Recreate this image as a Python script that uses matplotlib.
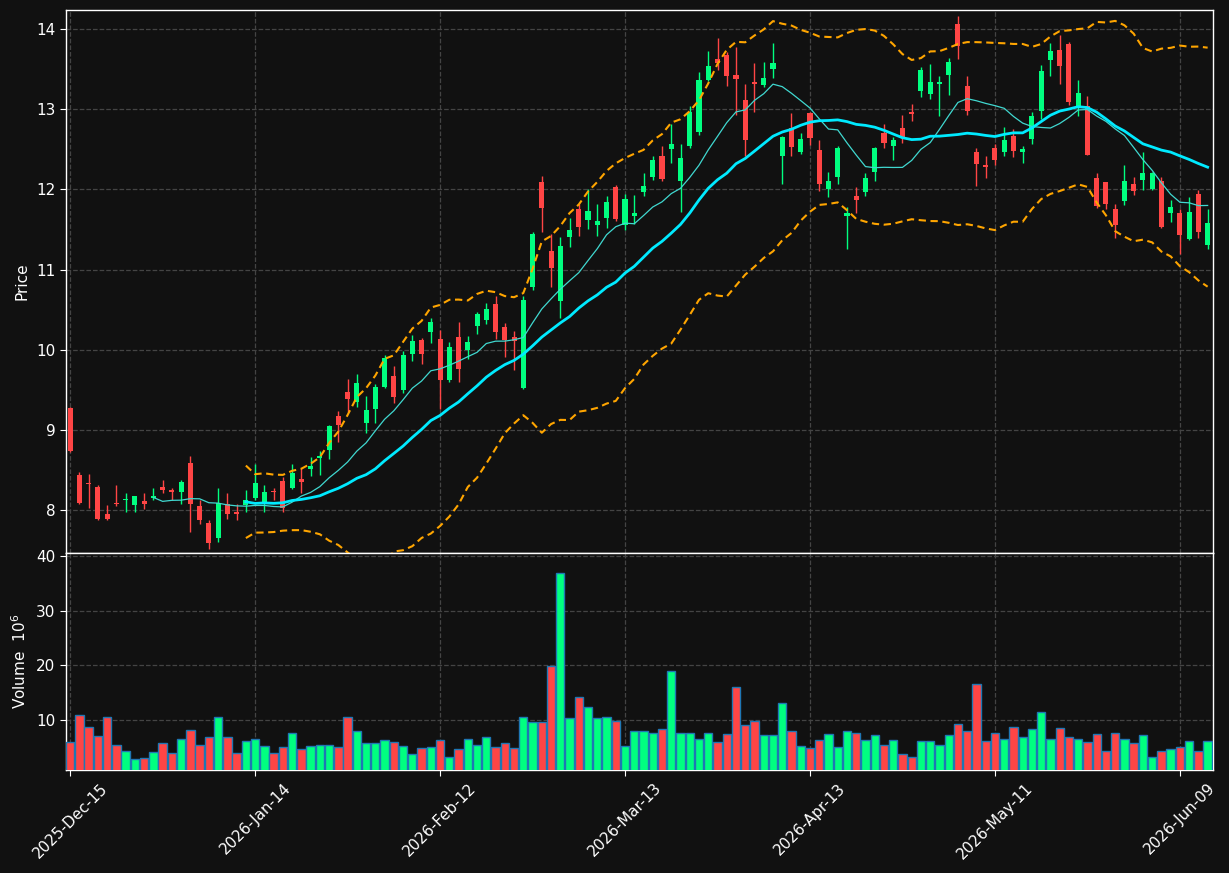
import numpy as np
import matplotlib
matplotlib.use("Agg")
import matplotlib.pyplot as plt

opens = [9.27, 8.44, 8.34, 8.29, 7.95, 8.09, 8.12, 8.06, 8.11, 8.15,
         8.29, 8.25, 8.23, 8.59, 8.05, 7.84, 7.65, 8.08, 7.98, 8.06,
         8.15, 8.10, 8.23, 8.36, 8.27, 8.39, 8.51, 8.65, 8.75, 9.17,
         9.47, 9.35, 9.09, 9.26, 9.53, 9.67, 9.50, 9.95, 10.12, 10.22,
         10.13, 9.62, 10.16, 10.00, 10.29, 10.37, 10.57, 10.28, 10.16, 9.52,
         10.78, 12.09, 11.23, 10.61, 11.41, 11.75, 11.62, 11.55, 11.64, 12.03,
         11.56, 11.67, 11.97, 12.16, 12.41, 12.50, 12.11, 12.54, 12.71, 13.37,
         13.62, 13.68, 13.42, 13.11, 13.34, 13.30, 13.50, 12.42, 12.76, 12.46,
         12.95, 12.49, 12.01, 12.16, 11.67, 11.92, 11.97, 12.22, 12.70, 12.54,
         12.76, 12.97, 13.23, 13.19, 13.32, 13.42, 14.06, 13.29, 12.46, 12.30,
         12.51, 12.47, 12.66, 12.46, 12.63, 12.98, 13.61, 13.74, 13.81, 13.04,
         13.04, 12.14, 12.09, 11.75, 11.85, 12.07, 12.12, 12.01, 12.10, 11.70,
         11.71, 11.38, 11.94, 11.31]
highs = [9.28, 8.47, 8.45, 8.31, 8.06, 8.31, 8.21, 8.17, 8.21, 8.27,
         8.38, 8.27, 8.37, 8.68, 8.12, 7.88, 8.28, 8.21, 8.08, 8.25,
         8.57, 8.31, 8.27, 8.41, 8.58, 8.53, 8.66, 8.74, 9.06, 9.23,
         9.63, 9.70, 9.42, 9.57, 9.93, 9.80, 9.98, 10.18, 10.15, 10.39,
         10.25, 10.09, 10.34, 10.17, 10.47, 10.58, 10.67, 10.33, 10.23, 10.67,
         11.47, 12.17, 11.44, 11.40, 11.64, 11.82, 12.01, 11.82, 11.92, 12.05,
         11.94, 11.93, 12.20, 12.41, 12.54, 12.82, 12.57, 13.04, 13.46, 13.73,
         13.89, 13.71, 13.78, 13.32, 13.57, 13.59, 13.82, 12.67, 12.95, 12.70,
         12.97, 12.61, 12.22, 12.54, 11.78, 12.03, 12.20, 12.53, 12.82, 12.65,
         12.93, 13.07, 13.52, 13.56, 13.41, 13.64, 14.16, 13.41, 12.52, 12.42,
         12.57, 12.78, 12.75, 12.54, 12.97, 13.55, 13.83, 13.93, 13.84, 13.36,
         13.17, 12.20, 12.09, 11.82, 12.30, 12.15, 12.46, 12.22, 12.15, 11.87,
         11.76, 11.90, 11.99, 11.76]
lows = [8.73, 8.08, 8.03, 7.88, 7.87, 8.05, 7.98, 7.98, 8.01, 8.13,
        8.21, 8.13, 8.08, 7.72, 7.83, 7.52, 7.60, 7.89, 7.88, 7.98,
        8.12, 7.98, 8.12, 7.98, 8.26, 8.21, 8.42, 8.44, 8.64, 8.85,
        9.22, 9.28, 8.96, 9.09, 9.52, 9.33, 9.46, 9.86, 9.82, 10.08,
        9.26, 9.60, 9.60, 9.88, 10.19, 10.32, 10.13, 9.91, 9.75, 9.51,
        10.74, 11.47, 10.78, 10.39, 11.28, 11.42, 11.51, 11.42, 11.52, 11.61,
        11.49, 11.57, 11.92, 12.12, 12.11, 12.33, 11.72, 12.52, 12.68, 13.35,
        13.49, 13.29, 12.93, 12.41, 12.96, 13.28, 13.39, 12.07, 12.42, 12.44,
        12.55, 11.98, 11.91, 12.07, 11.26, 11.70, 11.92, 12.11, 12.52, 12.36,
        12.58, 12.85, 13.15, 13.13, 12.92, 13.18, 13.62, 12.93, 12.04, 12.14,
        12.30, 12.42, 12.40, 12.33, 12.56, 12.88, 13.41, 13.31, 13.05, 12.92,
        12.43, 11.77, 11.76, 11.39, 11.80, 11.93, 11.99, 11.99, 11.52, 11.59,
        11.19, 11.37, 11.39, 11.25]
closes = [8.74, 8.09, 8.33, 7.89, 7.89, 8.08, 8.14, 8.17, 8.07, 8.17,
          8.25, 8.22, 8.35, 8.08, 7.87, 7.59, 8.09, 7.95, 7.95, 8.13,
          8.34, 8.22, 8.22, 8.03, 8.46, 8.35, 8.55, 8.67, 9.05, 9.06,
          9.38, 9.58, 9.25, 9.53, 9.90, 9.41, 9.93, 10.11, 9.94, 10.34,
          9.62, 10.03, 9.76, 10.09, 10.44, 10.51, 10.22, 10.12, 10.11, 10.62,
          11.44, 11.77, 11.02, 11.29, 11.49, 11.53, 11.73, 11.60, 11.84, 11.63,
          11.88, 11.70, 12.04, 12.36, 12.13, 12.56, 12.39, 12.96, 13.36, 13.54,
          13.57, 13.41, 13.38, 12.61, 13.32, 13.39, 13.58, 12.65, 12.53, 12.63,
          12.64, 12.07, 12.10, 12.51, 11.70, 11.87, 12.14, 12.51, 12.58, 12.61,
          12.65, 12.94, 13.49, 13.34, 13.34, 13.59, 13.79, 12.98, 12.32, 12.28,
          12.37, 12.61, 12.48, 12.50, 12.92, 13.47, 13.72, 13.54, 13.09, 13.20,
          12.43, 11.79, 11.82, 11.56, 12.10, 11.98, 12.20, 12.20, 11.53, 11.78,
          11.43, 11.72, 11.47, 11.58]
volumes = [5.9, 10.9, 8.7, 7.0, 10.5, 5.5, 4.4, 2.8, 3.0, 4.1,
           5.7, 3.9, 6.5, 8.1, 5.4, 6.8, 10.5, 6.8, 3.9, 6.1,
           6.5, 5.2, 3.9, 5.0, 7.6, 4.6, 5.2, 5.4, 5.5, 5.0,
           10.5, 7.9, 5.7, 5.7, 6.3, 5.9, 5.2, 3.7, 4.8, 5.0,
           6.3, 3.2, 4.6, 6.5, 5.4, 6.8, 5.0, 5.7, 4.8, 10.5,
           9.6, 9.6, 19.9, 36.9, 10.3, 14.3, 12.3, 10.3, 10.5, 9.8,
           5.2, 7.9, 7.9, 7.6, 8.3, 18.9, 7.6, 7.6, 6.6, 7.7,
           5.9, 7.4, 16.0, 9.0, 9.9, 7.2, 7.2, 13.1, 7.9, 5.2,
           4.8, 6.3, 7.4, 5.0, 7.9, 7.7, 6.3, 7.2, 5.4, 6.3,
           3.7, 3.3, 6.1, 6.1, 5.5, 7.2, 9.2, 7.9, 16.6, 6.1,
           7.7, 6.5, 8.8, 6.8, 8.3, 11.4, 6.5, 8.5, 6.8, 6.5,
           5.9, 7.4, 4.3, 7.6, 6.5, 5.7, 7.2, 3.3, 4.4, 4.6,
           5.0, 6.1, 4.3, 6.1]
tick_positions = [0, 20, 40, 60, 80, 100, 120]
tick_labels = ["2025-Dec-15", "2026-Jan-14", "2026-Feb-12", "2026-Mar-13",
               "2026-Apr-13", "2026-May-11", "2026-Jun-09"]

BG = "#111111"
UP = "#00ff80"
DOWN = "#ff4545"
GRID = "#444444"

o = np.array(opens); h = np.array(highs); l = np.array(lows); c = np.array(closes)
v = np.array(volumes)
n = len(c)
x = np.arange(n)
up = c >= o
colors = np.where(up, UP, DOWN)

def sma(a, w):
    out = np.full(len(a), np.nan)
    for i in range(w - 1, len(a)):
        out[i] = a[i - w + 1:i + 1].mean()
    return out

def sstd(a, w):
    out = np.full(len(a), np.nan)
    for i in range(w - 1, len(a)):
        out[i] = a[i - w + 1:i + 1].std()
    return out

ma10 = sma(c, 10)
ma20 = sma(c, 20)
sd20 = sstd(c, 20)
bb_up = ma20 + 2 * sd20
bb_lo = ma20 - 2 * sd20

fig = plt.figure(figsize=(12.29, 8.73), dpi=100, facecolor=BG)
W, H = 1229, 873
left = 66 / W
width = (1213 - 66) / W
ax = fig.add_axes([left, 1 - 553 / H, width, (553 - 10) / H], facecolor=BG)
axv = fig.add_axes([left, 1 - 770 / H, width, (770 - 553) / H], facecolor=BG, sharex=ax)

for a in (ax, axv):
    a.grid(True, color=GRID, linestyle="--", linewidth=0.9)
    a.set_axisbelow(True)
    for s in a.spines.values():
        s.set_color("white")
        s.set_linewidth(1.0)
    a.tick_params(colors="white", labelsize=11, length=4)

# candles
ax.vlines(x, l, h, colors=colors, linewidth=1.0, zorder=2)
body_bottom = np.minimum(o, c)
body_h = np.maximum(np.abs(c - o), 0.012)
ax.bar(x, body_h, bottom=body_bottom, width=0.55, color=colors, linewidth=0, zorder=3)

ax.plot(x, ma10, color="#40d8d0", linewidth=0.9, zorder=4)
ax.plot(x, ma20, color="#00eaff", linewidth=2.0, zorder=4)
ax.plot(x, bb_up, color="#ffa500", linewidth=1.5, linestyle=(0, (3.5, 2.2)), zorder=4)
ax.plot(x, bb_lo, color="#ffa500", linewidth=1.5, linestyle=(0, (3.5, 2.2)), zorder=4)

ax.set_ylim(7.464, 14.237)
ax.set_yticks([8, 9, 10, 11, 12, 13, 14])
ax.set_ylabel("Price", color="white", fontsize=11)
ax.tick_params(axis="x", labelbottom=False, length=0)

# volume
axv.bar(x, v, width=0.9, color=colors, edgecolor="#1f77b4", linewidth=1.0, zorder=3)
axv.set_ylim(0.3 * v.min(), 1.1 * v.max())
axv.set_yticks([10, 20, 30, 40])
axv.set_ylabel("Volume  $10^{6}$", color="white", fontsize=11)
axv.set_xlim(-0.45, n - 1 + 0.58)
axv.set_xticks(tick_positions)
axv.set_xticklabels(tick_labels, rotation=45, ha="center")

ax.yaxis.set_label_coords(-0.032, 0.5)
axv.yaxis.set_label_coords(-0.032, 0.5)

fig.savefig("out.png", dpi=100, facecolor=BG)
